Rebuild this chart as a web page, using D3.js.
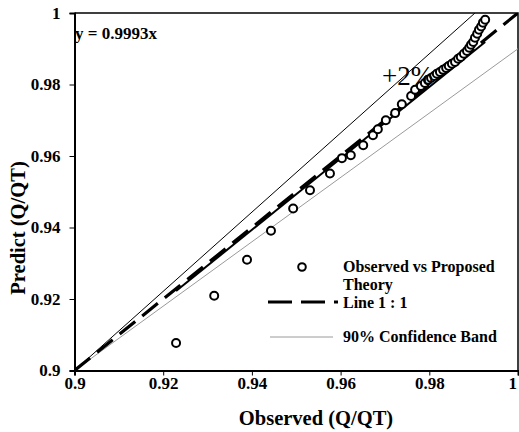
<!DOCTYPE html>
<html>
<head>
<meta charset="utf-8">
<script src="https://cdn.jsdelivr.net/npm/d3@7"></script>
<style>
  html, body { margin: 0; padding: 0; background: #fff; }
  svg { display: block; }
  text { font-family: "Liberation Serif", "Times New Roman", serif; }
</style>
</head>
<body>
<svg id="chart" width="519" height="432"></svg>
<script>
// ---- data ----
const observed = [0.9229,0.9315,0.9389,0.9443,0.9493,0.9531,0.9576,0.9603,0.9623,0.9651,
  0.9673,0.9684,0.9702,0.9723,0.9738,0.9759,0.9768,0.9781,0.9790,0.9797,
  0.9804,0.9811,0.9817,0.9824,0.9831,0.9838,0.9844,0.9851,0.9858,0.9865,
  0.9871,0.9878,0.9885,0.9890,0.9894,0.9899,0.9903,0.9908,0.9912,0.9917,
  0.9921,0.9926];
const predicted = [0.9077,0.9209,0.9310,0.9391,0.9453,0.9504,0.9551,0.9594,0.9602,0.9630,
  0.9658,0.9675,0.9700,0.9720,0.9745,0.9768,0.9785,0.9796,0.9804,0.9813,
  0.9818,0.9824,0.9830,0.9835,0.9841,0.9846,0.9852,0.9858,0.9863,0.9872,
  0.9877,0.9886,0.9894,0.9903,0.9911,0.9919,0.9931,0.9942,0.9953,0.9962,
  0.9973,0.9981];
const lineOneToOne = [[0.9, 0.9], [1.0, 1.0]];
const upperBand = [[0.9, 0.9], [0.9903, 1.0]];
const lowerBand = [[0.9, 0.9], [1.0, 0.99]];
const trendSlope = 0.9993;
const xTicks = [0.9, 0.92, 0.94, 0.96, 0.98, 1];
const yTicks = [0.9, 0.92, 0.94, 0.96, 0.98, 1];
const legendLabels = ["Observed vs Proposed", "Theory", "Line 1 : 1", "90% Confidence Band"];

// ---- layout ----
const svg = d3.select("#chart");
const L = 74.5, R = 518, T = 13, B = 370.5;
const x = d3.scaleLinear().domain([0.9, 1]).range([L, R]);
const y = d3.scaleLinear().domain([0.9, 1]).range([B, T]);
const fmt = d => d === 1 ? "1" : String(+d.toFixed(2));

svg.append("defs").append("clipPath").attr("id", "clip")
  .append("rect").attr("x", L).attr("y", T).attr("width", R - L).attr("height", B - T);

// frame (top and right)
svg.append("path")
  .attr("d", `M${L},${T}H${R}V${B}`)
  .attr("fill", "none").attr("stroke", "#000").attr("stroke-width", 1.5);

const line = d3.line().x(d => x(d[0])).y(d => y(d[1]));
const g = svg.append("g").attr("clip-path", "url(#clip)");

g.append("path").datum(lowerBand).attr("d", line)
  .attr("fill", "none").attr("stroke", "#9a9a9a").attr("stroke-width", 1);
g.append("path").datum(upperBand).attr("d", line)
  .attr("fill", "none").attr("stroke", "#000").attr("stroke-width", 1);
g.append("path").datum(lineOneToOne).attr("d", line)
  .attr("fill", "none").attr("stroke", "#000").attr("stroke-width", 3.2)
  .attr("stroke-dasharray", "20,9");
const xr = d3.extent(observed);
g.append("path").datum([[xr[0], trendSlope * xr[0]], [xr[1], trendSlope * xr[1]]]).attr("d", line)
  .attr("fill", "none").attr("stroke", "#000").attr("stroke-width", 2);

// +2% label
svg.append("text").attr("x", 382).attr("y", 85)
  .attr("font-size", 27).attr("fill", "#000").text("+2%");

// points
g.selectAll("circle.pt").data(observed).join("circle").attr("class", "pt")
  .attr("cx", d => x(d)).attr("cy", (d, i) => y(predicted[i])).attr("r", 4)
  .attr("fill", "#fff").attr("stroke", "#000").attr("stroke-width", 2);

// axes
const xAxis = svg.append("g").attr("transform", `translate(0,${B})`)
  .call(d3.axisBottom(x).tickValues(xTicks).tickSize(5).tickPadding(2).tickFormat(fmt));
const yAxis = svg.append("g").attr("transform", `translate(${L},0)`)
  .call(d3.axisLeft(y).tickValues(yTicks).tickSize(5).tickPadding(9).tickFormat(fmt));
[xAxis, yAxis].forEach(a => {
  a.select(".domain").attr("stroke", "#000").attr("stroke-width", 2);
  a.selectAll(".tick line").attr("stroke", "#000").attr("stroke-width", 1);
  a.selectAll(".tick text").attr("font-family", "Liberation Serif, Times New Roman, serif")
    .attr("font-size", 17).attr("font-weight", "bold").attr("fill", "#000");
});
xAxis.selectAll(".tick text").attr("dy", "0.7em");
xAxis.selectAll(".tick").filter(d => d === 1).select("text").attr("text-anchor", "end").attr("dx", "-1.5");

// axis titles
svg.append("text").attr("x", 316).attr("y", 425).attr("text-anchor", "middle")
  .attr("font-size", 20.5).attr("font-weight", "bold").text("Observed (Q/QT)");
svg.append("text").attr("transform", "translate(25,228) rotate(-90)").attr("text-anchor", "middle")
  .attr("font-size", 20.5).attr("font-weight", "bold").text("Predict (Q/QT)");

// equation
svg.append("text").attr("x", 75).attr("y", 39)
  .attr("font-size", 17).attr("font-weight", "bold").text("y = " + trendSlope + "x");

// legend
const lg = svg.append("g");
lg.append("circle").attr("cx", 302).attr("cy", 267).attr("r", 3.8)
  .attr("fill", "#fff").attr("stroke", "#000").attr("stroke-width", 2);
lg.append("line").attr("x1", 268).attr("x2", 338).attr("y1", 302).attr("y2", 302)
  .attr("stroke", "#000").attr("stroke-width", 3.2).attr("stroke-dasharray", "24,9");
lg.append("line").attr("x1", 270).attr("x2", 333).attr("y1", 337).attr("y2", 337)
  .attr("stroke", "#9a9a9a").attr("stroke-width", 1);
const ly = [272, 290, 308, 342];
lg.selectAll("text.lt").data(legendLabels).join("text").attr("class", "lt")
  .attr("x", 343).attr("y", (d, i) => ly[i])
  .attr("font-size", 16).attr("font-weight", "bold").text(d => d);
</script>
</body>
</html>
